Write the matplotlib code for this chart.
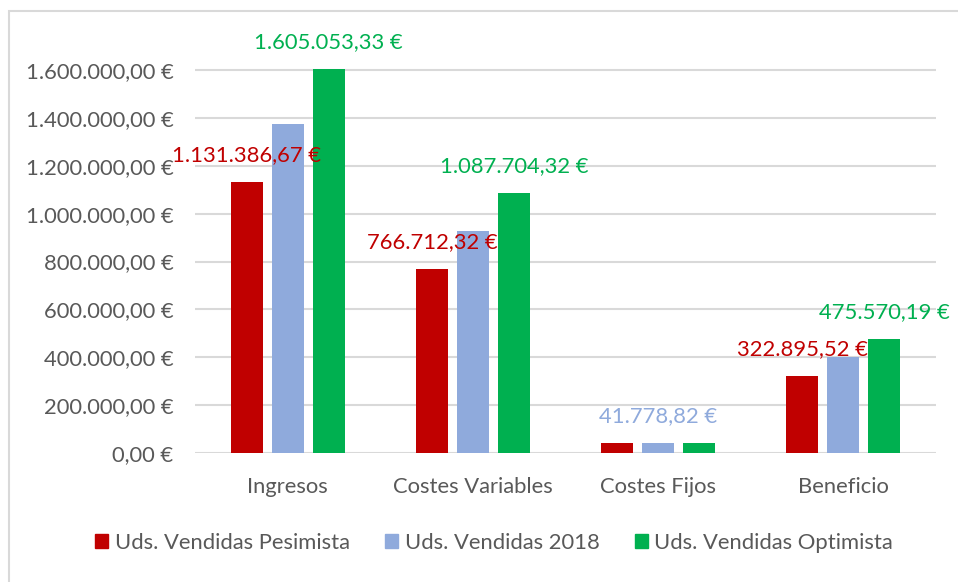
import matplotlib
matplotlib.use("Agg")
import matplotlib.pyplot as plt
from matplotlib.patches import Rectangle, Patch
import numpy as np

plt.rcParams['font.family'] = ['Lato', 'DejaVu Sans']

categories = ["Ingresos", "Costes Variables", "Costes Fijos", "Beneficio"]
series_names = ["Uds. Vendidas Pesimista", "Uds. Vendidas 2018", "Uds. Vendidas Optimista"]
pesimista = [1131386.67, 766712.32, 41778.82, 322895.52]
vendidas_2018 = [1374000.00, 929000.00, 41778.82, 403000.00]
optimista = [1605053.33, 1087704.32, 41778.82, 475570.19]
# which data labels are displayed in the original chart
labels_shown = [[True, True, False, True],
                [False, False, True, False],
                [True, True, False, True]]
yticks = [0, 200000, 400000, 600000, 800000, 1000000, 1200000, 1400000, 1600000]
colors = ["#C00000", "#8FAADC", "#00B050"]
text_gray = "#595959"
grid_gray = "#D9D9D9"
FS = 15.8


def fmt(v):
    s = f"{v:,.2f}"
    s = s.replace(",", "X").replace(".", ",").replace("X", ".")
    return s + " €"


W, H = 958, 582
fig = plt.figure(figsize=(W / 100, H / 100), dpi=100)

# plot area in pixels
left, right = 195, 936
y0 = 453
ytop_val = 1700000
px_per_unit = (453 - 70) / 1600000
top_px = y0 - ytop_val * px_per_unit
ax = fig.add_axes([left / W, (H - y0) / H, (right - left) / W, (y0 - top_px) / H])

series = [pesimista, vendidas_2018, optimista]
x = np.arange(len(categories))
bw = 32 / 185
step = 41 / 185
for i, (vals, c) in enumerate(zip(series, colors)):
    xs = x + (i - 1) * step
    ax.bar(xs, vals, width=bw, color=c, zorder=3)
    for j, v in enumerate(vals):
        if labels_shown[i][j]:
            ax.annotate(fmt(v), (xs[j], v), xytext=(0, 27), textcoords="offset pixels",
                        ha="center", va="center", color=c, fontsize=FS, zorder=5,
                        annotation_clip=False)

ax.set_xlim(-0.5, 3.5)
ax.set_ylim(0, ytop_val)
ax.set_yticks(yticks)
ax.set_yticklabels([fmt(t) for t in yticks])
ax.set_xticks(x)
ax.set_xticklabels(categories)
ax.tick_params(axis="both", length=0, labelsize=FS, colors=text_gray)
ax.tick_params(axis="y", pad=15.5)
ax.tick_params(axis="x", pad=17)
ax.grid(axis="y", color=grid_gray, linewidth=1.5, zorder=0)
for s in ax.spines.values():
    s.set_visible(False)

# chart border
fig.patches.append(Rectangle((9 / W, -0.1), 1.2, 1 - 11 / H + 0.1, transform=fig.transFigure,
                             fill=False, edgecolor=grid_gray, linewidth=1.5))

handles = [Patch(color=c) for c in colors]
fig.legend(handles, series_names, loc="center", bbox_to_anchor=(494 / W, 1 - 543 / H),
           ncol=3, frameon=False, fontsize=FS, labelcolor=text_gray,
           handlelength=0.6, handleheight=0.6, handletextpad=0.3, columnspacing=1.6)

fig.savefig("out.png", dpi=100)
